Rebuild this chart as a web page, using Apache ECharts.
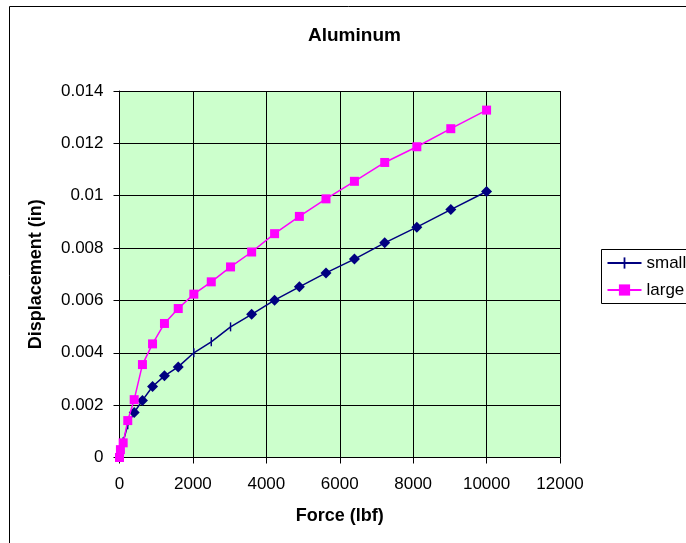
<!DOCTYPE html>
<html>
<head>
<meta charset="utf-8">
<script src="https://cdn.jsdelivr.net/npm/echarts@6/dist/echarts.min.js"></script>
<style>
html,body{margin:0;padding:0;background:#fff;}
#chart{width:686px;height:543px;}
</style>
</head>
<body>
<div id="chart"></div>
<script>
// ---- data ----
const chartTitle = 'Aluminum';
const xAxisTitle = 'Force (lbf)';
const yAxisTitle = 'Displacement (in)';
const seriesNames = ['small', 'large'];

const forceSmall = [0, 25, 100, 225, 400, 625, 900, 1225, 1600, 2025, 2500, 3025, 3600, 4225, 4900, 5625, 6400, 7225, 8100, 9025, 10000];
const dispSmall  = [0, 0.0002, 0.0006, 0.00125, 0.00172, 0.00218, 0.00271, 0.00312, 0.00346, 0.00400, 0.00442, 0.00499, 0.00547, 0.00601, 0.00652, 0.00705, 0.00758, 0.00820, 0.00880, 0.00947, 0.01016];

const forceLarge = [0, 25, 100, 225, 400, 625, 900, 1225, 1600, 2025, 2500, 3025, 3600, 4225, 4900, 5625, 6400, 7225, 8100, 9025, 10000];
const dispLarge  = [0, 0.0003, 0.00056, 0.00141, 0.00221, 0.00355, 0.00434, 0.00512, 0.00569, 0.00624, 0.00671, 0.00728, 0.00785, 0.00855, 0.00921, 0.00988, 0.01055, 0.01127, 0.01187, 0.01256, 0.01327];

const xTicks = [0, 2000, 4000, 6000, 8000, 10000, 12000];
const yTicks = [0, 0.002, 0.004, 0.006, 0.008, 0.01, 0.012, 0.014];

// indices of "small" points drawn with the vertical-dash marker (others are diamonds)
const dashMarkerIdx = [0, 1, 2, 3, 9, 10, 11];

// ---- styling ----
const FONT = 'Liberation Sans, Arial, sans-serif';
const NAVY = '#000080';
const MAGENTA = '#FF00FF';
const DASH = 'path://M0 0M10 10M4.2 0h1.6v10h-1.6z';

const smallData = forceSmall.map((f, i) => {
  const item = { value: [f, dispSmall[i]] };
  if (dashMarkerIdx.indexOf(i) < 0) {
    item.symbol = 'diamond';
    item.symbolSize = 11;
  }
  return item;
});
const largeData = forceLarge.map((f, i) => [f, dispLarge[i]]);

const chart = echarts.init(document.getElementById('chart'), null, { renderer: 'canvas' });

chart.setOption({
  animation: false,
  backgroundColor: '#fff',
  textStyle: { fontFamily: FONT },
  title: {
    text: chartTitle,
    left: 308,
    top: 26,
    padding: 0,
    textStyle: { fontFamily: FONT, fontSize: 19, fontWeight: 'bold', color: '#000' }
  },
  graphic: [{
    type: 'rect',
    shape: { x: 9.5, y: 6.5, width: 720, height: 600 },
    style: { fill: 'none', stroke: '#000', lineWidth: 1 },
    silent: true,
    z: -10
  }],
  legend: {
    orient: 'vertical',
    left: 601.5,
    top: 249.5,
    padding: [5, 10, 5, 5],
    itemWidth: 34,
    itemHeight: 14,
    itemGap: 10,
    borderColor: '#000',
    borderWidth: 1,
    backgroundColor: '#fff',
    data: seriesNames,
    textStyle: { fontFamily: FONT, fontSize: 17, color: '#000', padding: [0, 0, 0, 0] }
  },
  grid: {
    left: 119.5,
    top: 91,
    right: 126,
    bottom: 85.5,
    show: true,
    backgroundColor: '#CCFFCC',
    borderWidth: 0,
    containLabel: false
  },
  xAxis: {
    type: 'value',
    min: xTicks[0],
    max: xTicks[xTicks.length - 1],
    interval: xTicks[1] - xTicks[0],
    name: xAxisTitle,
    nameLocation: 'middle',
    nameGap: 50,
    nameTextStyle: { fontFamily: FONT, fontSize: 18, fontWeight: 'bold', color: '#000' },
    axisLine: { show: true, lineStyle: { color: '#000', width: 1 } },
    axisTick: { show: true, length: 6, inside: false, lineStyle: { color: '#000' } },
    axisLabel: {
      margin: 18, fontFamily: FONT, fontSize: 17, color: '#000',
      formatter: v => String(Math.round(v))
    },
    splitLine: { show: true, lineStyle: { color: '#000', width: 1 } }
  },
  yAxis: {
    type: 'value',
    min: yTicks[0],
    max: yTicks[yTicks.length - 1],
    interval: yTicks[1] - yTicks[0],
    name: yAxisTitle,
    nameLocation: 'middle',
    nameRotate: 90,
    nameGap: 74,
    nameTextStyle: { fontFamily: FONT, fontSize: 18, fontWeight: 'bold', color: '#000' },
    axisLine: { show: true, lineStyle: { color: '#000', width: 1 } },
    axisTick: { show: true, length: 6, inside: false, lineStyle: { color: '#000' } },
    axisLabel: {
      margin: 16, fontFamily: FONT, fontSize: 17, color: '#000',
      formatter: v => String(+v.toFixed(4))
    },
    splitLine: { show: true, lineStyle: { color: '#000', width: 1 } }
  },
  series: [
    {
      name: seriesNames[0],
      type: 'line',
      data: smallData,
      symbol: DASH,
      symbolSize: 9,
      showAllSymbol: true,
      clip: false,
      lineStyle: { color: NAVY, width: 1.5 },
      itemStyle: { color: NAVY, borderColor: NAVY, borderWidth: 0 },
      emphasis: { disabled: true },
      z: 3
    },
    {
      name: seriesNames[1],
      type: 'line',
      data: largeData,
      symbol: 'rect',
      symbolSize: 9,
      showAllSymbol: true,
      clip: false,
      lineStyle: { color: MAGENTA, width: 1.5 },
      itemStyle: { color: MAGENTA, borderColor: MAGENTA, borderWidth: 0 },
      emphasis: { disabled: true },
      z: 4
    }
  ]
});
</script>
</body>
</html>
